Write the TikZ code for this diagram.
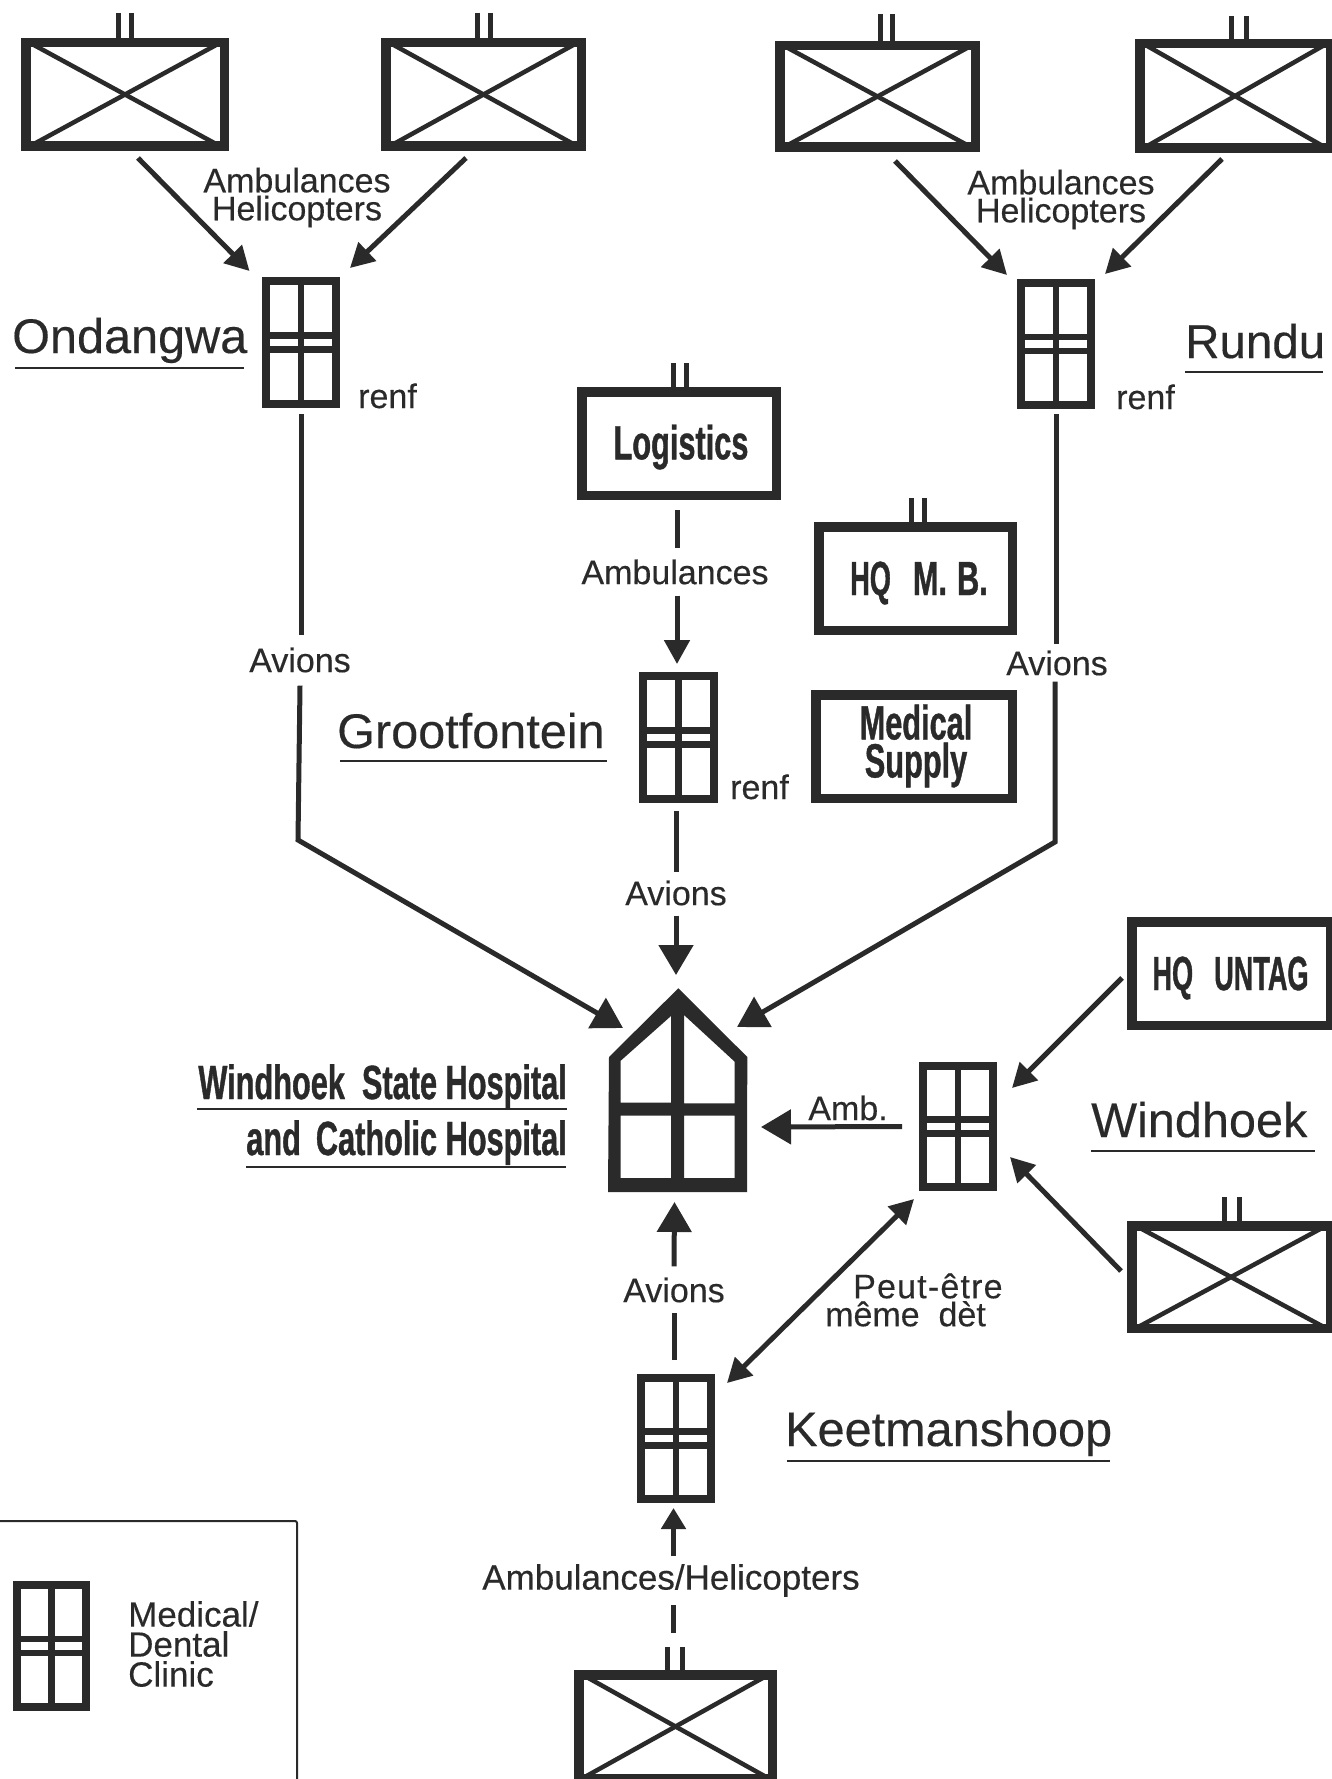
\documentclass[tikz,border=0pt]{standalone}
\usepackage{fontspec}
\setmainfont[FakeBold=0.3]{Liberation Sans}
\newfontfamily\condfont[FakeStretch=0.64,FakeBold=0.8]{Liberation Sans}
\newfontfamily\condnarrow[FakeStretch=0.565,FakeBold=0.8]{Liberation Sans}
\usetikzlibrary{arrows.meta}
\definecolor{ink}{HTML}{2A2A2A}
\tikzset{
  ubox/.style={draw=ink,line width=9.5pt,rectangle,inner sep=0pt},
  utext/.style={text=ink,inner sep=0pt,align=center,
     font=\condfont\bfseries\fontsize{48}{38}\selectfont},
  cbox/.style={draw=ink,line width=8pt,rectangle,inner sep=0pt},
  diag/.style={draw=ink,line width=4.5pt,shorten >=5pt,shorten <=5pt},
  bar/.style={draw=ink,line width=6.5pt},
  stalk/.style={draw=ink,line width=5pt},
  ln/.style={draw=ink,line width=5pt},
  arr/.style={draw=ink,line width=5pt,-{Triangle[length=24pt,width=25pt]}},
  arrbig/.style={draw=ink,line width=5pt,-{Triangle[length=30pt,width=34pt]}},
  arrsmall/.style={draw=ink,line width=5pt,-{Triangle[length=21pt,width=24pt]}},
  dbl/.style={draw=ink,line width=5pt,{Triangle[length=24pt,width=25pt]}-{Triangle[length=24pt,width=25pt]}},
  lab/.style={text=ink,inner sep=0pt,font=\fontsize{34}{28}\selectfont,align=center},
  place/.style={text=ink,inner sep=0pt,anchor=base west,font=\fontsize{48.6}{48}\selectfont},
  hosptext/.style={text=ink,inner sep=0pt,anchor=base east,font=\condfont\bfseries\fontsize{48}{48}\selectfont},
  uline/.style={draw=ink,line width=2.5pt},
  legendline/.style={draw=ink,line width=2pt,rounded corners=2pt},
}
% name, x1, y1, x2, y2
\newcommand{\unitbox}[5]{%
  \node[ubox,minimum width={(#4-#2-9.5)*1pt},minimum height={(#5-#3-9.5)*1pt}] (#1)
     at ({(#2+#4)/2},{(#3+#5)/2}) {};}
\newcommand{\crossbox}[5]{%
  \unitbox{#1}{#2}{#3}{#4}{#5}%
  \draw[diag] (#1.north west) -- (#1.south east);
  \draw[diag] (#1.north east) -- (#1.south west);}
% centre x, spacing, top, bottom
\newcommand{\stalks}[4]{%
  \draw[stalk] ({#1-#2/2},#3) -- ({#1-#2/2},#4);
  \draw[stalk] ({#1+#2/2},#3) -- ({#1+#2/2},#4);}
\newcommand{\clinic}[5]{%
  \node[cbox,minimum width={(#4-#2-8)*1pt},minimum height={(#5-#3-8)*1pt}] (#1)
     at ({(#2+#4)/2},{(#3+#5)/2}) {};
  \draw[bar] (#1.north) -- (#1.south);
  \draw[bar] ([yshift=7pt]#1.west) -- ([yshift=7pt]#1.east);
  \draw[bar] ([yshift=-7pt]#1.west) -- ([yshift=-7pt]#1.east);}
\begin{document}
\begin{tikzpicture}[x=1pt,y=-1pt]
\path[use as bounding box,clip] (0,0) rectangle (1332,1779);
\fill[white] (0,0) rectangle (1332,1779);

% units with crossed boxes
\stalks{125}{13}{13}{40}
\crossbox{ua}{21}{38}{229}{151}
\stalks{484}{13}{13}{40}
\crossbox{ub}{381}{38}{586}{151}
\stalks{886}{12}{14}{43}
\crossbox{uc}{775}{41}{980}{152}
\stalks{1238.5}{15}{16}{41}
\crossbox{ud}{1135}{39}{1335}{153}
\stalks{1232}{15}{1197}{1223}
\crossbox{uw}{1127}{1221}{1335}{1333}
\stalks{674.5}{15}{1647}{1672}
\crossbox{ubot}{574}{1670}{777}{1783}

% labelled boxes
\stalks{680}{13}{363}{389}
\unitbox{logi}{577}{387}{781}{500}
\node[utext] (logit) at (681,447) {Logistics};
\stalks{918}{13}{498}{524}
\unitbox{hqmb}{814}{522}{1017}{635}
\node[utext] (hqmbt) at (919,583) {{\condnarrow\bfseries HQ}\hspace{22pt}M.\hspace{10pt}B.};
\unitbox{medsup}{811}{690}{1017}{803}
\node[utext] (medsupt) at (916,746) {Medical\\Supply};
\unitbox{hqun}{1127}{917}{1335}{1030}
\node[utext,font=\condnarrow\bfseries\fontsize{48}{38}\selectfont] (hqunt) at (1230.5,978) {HQ\hspace{21pt}UNTAG};

% clinics
\clinic{ond}{262}{277}{340}{408}
\clinic{run}{1017}{279}{1095}{409}
\clinic{gro}{639}{672}{718}{803}
\clinic{win}{919}{1062}{997}{1191}
\clinic{kee}{637}{1374}{715}{1503}
\clinic{leg}{13}{1581}{90}{1711}

% hospital
\node[minimum width=139pt,minimum height=204pt,inner sep=0pt,outer sep=0pt] (hosp) at (677.5,1090) {};
\fill[ink,even odd rule]
  (609,1057) -- (678.3,988.3) -- (747.3,1057) -- (747,1192) -- (608,1192) -- cycle
  (620.7,1060.7) -- (671,1016) -- (671,1102.7) -- (620.7,1102.7) -- cycle
  (684,1015) -- (734.7,1061.7) -- (734.7,1103.3) -- (684,1103.3) -- cycle
  (620.7,1115.7) -- (671,1115.7) -- (671,1178) -- (620.7,1178) -- cycle
  (684,1115.7) -- (734.7,1115.7) -- (734.7,1178) -- (684,1178) -- cycle;

% place names
\node[place] (nond) at (12,353) {Ondangwa};
\draw[uline] (15,368) -- (244,368);
\node[place,font=\fontsize{47.5}{48}\selectfont] (nrun) at (1185,358) {Rundu};
\draw[uline] (1185,372) -- (1323,372);
\node[place] (ngro) at (337,748) {Grootfontein};
\draw[uline] (340,761) -- (607,761);
\node[place] (nwin) at (1091,1137) {Windhoek};
\draw[uline] (1091,1151) -- (1315,1151);
\node[place] (nkee) at (785,1446) {Keetmanshoop};
\draw[uline] (787,1461) -- (1110,1461);
\node[hosptext] (h1) at (567,1099) {Windhoek\ \ State Hospital};
\draw[uline] (197,1109) -- (567,1109);
\node[hosptext] (h2) at (567,1155) {and\hspace{15pt}Catholic Hospital};
\draw[uline] (246,1167) -- (566,1167);

% small labels
\node[lab] (ah1) at (297,197.5) {Ambulances\\Helicopters};
\node[lab] (ah2) at (1061,199.5) {Ambulances\\Helicopters};
\node[lab,anchor=base west] (r1) at (358,408) {renf};
\node[lab,anchor=base west] (r2) at (1116,409) {renf};
\node[lab,anchor=base west] (r3) at (730,799) {renf};
\node[lab] (amb) at (675,572) {Ambulances};
\node[lab] (av1) at (300,660) {Avions};
\node[lab] (av2) at (1057,663) {Avions};
\node[lab] (av3) at (676,893) {Avions};
\node[lab] (av4) at (674,1290) {Avions};
\node[lab] (ambs) at (848,1108) {Amb.};
\node[lab,align=left,anchor=west] (peut) at (825,1300) {\addfontfeature{LetterSpace=3.5}\hspace{28pt}Peut-être\\même\ \ dèt};
\node[lab,font=\fontsize{35}{28}\selectfont] (abot) at (671,1580.5) {Ambulances/Helicopters};
\node[lab,align=left,anchor=north west,font=\fontsize{35}{30}\selectfont] (legt) at (128,1601) {Medical/\\Dental\\Clinic};

% connectors
\draw[arr] ([shift={(13,7)}]ua.south) -- ([shift={(-51.5,-6)}]ond.north);
\draw[arr] ([shift={(-17.5,7)}]ub.south) -- ([shift={(49,-9)}]ond.north);
\draw[arr] ([shift={(17.5,9)}]uc.south) -- ([shift={(-49,-4)}]run.north);
\draw[arr] ([shift={(-13,6)}]ud.south) -- ([shift={(49,-5)}]run.north);

\draw[ln] ([yshift=-6pt]ond.south) -- ([shift={(1,-12)}]av1.north);
\coordinate (ondbend) at (298,840);
\draw[arrbig] ([shift={(0,13)}]av1.south) -- (ondbend) -- ([shift={(-54.5,40)}]hosp.north);
\draw[ln] ([yshift=-5pt]run.south) -- ([shift={(-1,-6)}]av2.north);
\coordinate (runbend) at (1055,842);
\draw[arrbig] ([shift={(-2,6)}]av2.south) -- (runbend) -- ([shift={(59.5,39)}]hosp.north);

\draw[ln] ([shift={(-2,10)}]logi.south) -- ([shift={(2,-11)}]amb.north);
\draw[arr] ([shift={(2,11)}]amb.south) -- ([shift={(-1.5,-8)}]gro.north);
\draw[ln] ([shift={(-2.5,8)}]gro.south) -- ([shift={(0,-8)}]av3.north);
\draw[arrbig] ([shift={(0,10)}]av3.south) -- ([shift={(-1.5,-13)}]hosp.north);

\draw[arrbig] ([xshift=-17pt]win.west) -- ([shift={(14,37)}]hosp.east);
\draw[ln] ([shift={(-2,-14)}]kee.north) -- ([shift={(0,10)}]av4.south);
\draw[arrbig] ([shift={(0,-11)}]av4.north) -- ([shift={(-3,10)}]hosp.south);
\draw[dbl] ([shift={(51,9)}]kee.north) -- ([shift={(-44,8)}]win.south);

\draw[arr] ([shift={(-5,4.5)}]hqun.west) -- ([shift={(15,-38.5)}]win.east);
\draw[arr] ([shift={(-6,-6)}]uw.west) -- ([shift={(13,30.5)}]win.east);

\draw[ln] ([shift={(-2,-37)}]ubot.north) -- ([shift={(2.5,8)}]abot.south);
\draw[arrsmall] ([shift={(2.5,-8)}]abot.north) -- ([shift={(-2.5,5)}]kee.south);

% legend frame
\coordinate (lega) at (-5,1521);
\coordinate (legb) at (297,1521);
\coordinate (legc) at (297,1790);
\draw[legendline] (lega) -- (legb) -- (legc);
\end{tikzpicture}
\end{document}
